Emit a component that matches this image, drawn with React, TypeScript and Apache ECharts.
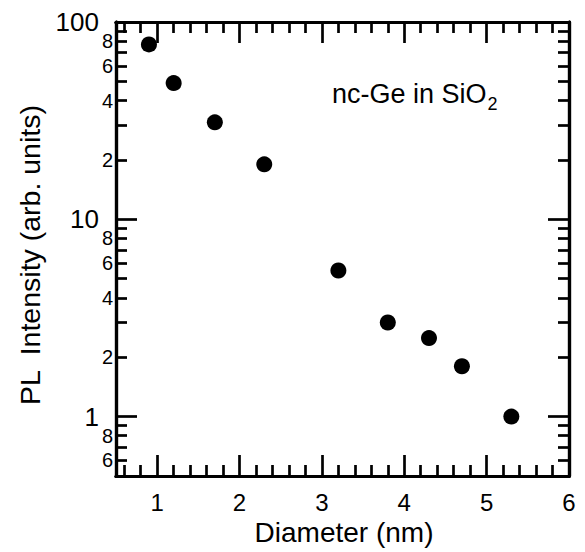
import React, { useEffect, useRef } from "react";
import * as echarts from "echarts";

const diameters = [0.9, 1.2, 1.7, 2.3, 3.2, 3.8, 4.3, 4.7, 5.3];
const intensities = [77, 49, 31, 19, 5.5, 3.0, 2.5, 1.8, 1.0];

const xMajorTicks = [1, 2, 3, 4, 5, 6];
const xMinorTicks = [0.6, 0.8, 1.2, 1.4, 1.6, 1.8, 2.2, 2.4, 2.6, 2.8, 3.2, 3.4, 3.6, 3.8, 4.2, 4.4, 4.6, 4.8, 5.2, 5.4, 5.6, 5.8];
const yMajorTicks = [1, 10, 100];
const yMinorTicks = [0.5, 0.6, 0.7, 0.8, 0.9, 2, 3, 4, 5, 6, 7, 8, 9, 20, 30, 40, 50, 60, 70, 80, 90];
const yMinorLabels = [0.6, 0.8, 2, 4, 6, 8, 20, 40, 60, 80];

const xTitle = "Diameter (nm)";
const yTitle = "PL  Intensity (arb. units)";
const FONT = "'Liberation Sans', Arial, Helvetica, sans-serif";

export default function App() {
  const ref = useRef<HTMLDivElement>(null);
  useEffect(() => {
    if (!ref.current) return;
    const chart = echarts.init(ref.current, undefined, { renderer: "svg" });
    const line = { show: true, onZero: false, lineStyle: { color: "#000", width: 3.2 } };
    const xAx = (pos: string, ticks: number[], len: number, labels: boolean) => ({
      type: "value",
      min: 0.5,
      max: 6,
      position: pos,
      axisLine: line,
      splitLine: { show: false },
      axisTick: { show: true, inside: true, length: len, customValues: ticks, lineStyle: { color: "#000", width: 2.7 } },
      axisLabel: labels
        ? { show: true, customValues: xMajorTicks, fontSize: 24, margin: 14, color: "#000", fontFamily: FONT }
        : { show: false },
    });
    const mant = (v: number) => {
      const p = Math.floor(Math.log10(v) + 1e-9);
      return String(Math.round(v / Math.pow(10, p)));
    };
    const yAx = (pos: string, ticks: number[], len: number, labels: any) => ({
      type: "log",
      logBase: 10,
      min: 0.5,
      max: 100,
      position: pos,
      axisLine: line,
      splitLine: { show: false },
      minorTick: { show: false },
      axisTick: { show: true, inside: true, length: len, customValues: ticks, lineStyle: { color: "#000", width: 2.7 } },
      axisLabel: labels || { show: false },
    });
    chart.setOption({
      animation: false,
      grid: { left: 116, right: 16, top: 22, bottom: 76 },
      xAxis: [
        xAx("bottom", xMajorTicks, 21, true),
        xAx("bottom", xMinorTicks, 11, false),
        xAx("top", xMajorTicks, 21, false),
        xAx("top", xMinorTicks, 11, false),
      ],
      yAxis: [
        yAx("left", yMajorTicks, 21, {
          show: true,
          customValues: yMajorTicks,
          fontSize: 26,
          margin: 17,
          color: "#000",
          fontFamily: FONT,
          formatter: (v: number) => String(Math.round(v)),
        }),
        yAx("left", yMinorTicks, 11, {
          show: true,
          customValues: yMinorLabels,
          fontSize: 20,
          margin: 3,
          color: "#000",
          fontFamily: FONT,
          formatter: (v: number) => mant(v),
        }),
        yAx("right", yMajorTicks, 21, null),
        yAx("right", yMinorTicks, 11, null),
      ],
      series: [
        {
          type: "scatter",
          xAxisIndex: 0,
          yAxisIndex: 0,
          symbol: "circle",
          symbolSize: 16,
          itemStyle: { color: "#000", opacity: 1 },
          data: diameters.map((d, i) => [d, intensities[i]]),
        },
      ],
      graphic: [
        {
          type: "text",
          x: 30,
          y: 255,
          rotation: Math.PI / 2,
          style: { text: yTitle, fontSize: 28.5, fontFamily: FONT, fill: "#000", align: "center", verticalAlign: "middle" },
        },
        {
          type: "text",
          x: 344,
          y: 532,
          style: { text: xTitle, fontSize: 28, fontFamily: FONT, fill: "#000", align: "center", verticalAlign: "middle" },
        },
        {
          type: "text",
          x: 332,
          y: 83,
          style: {
            text: "{a|nc-Ge in SiO}{b|2}",
            fontFamily: FONT,
            fill: "#000",
            align: "left",
            verticalAlign: "top",
            rich: {
              a: { fontSize: 27, lineHeight: 30, padding: [0, 1, 6, 0], fontFamily: FONT, fill: "#000", verticalAlign: "bottom" },
              b: { fontSize: 18, lineHeight: 14, fontFamily: FONT, fill: "#000", verticalAlign: "bottom" },
            },
          },
        },
      ],
    });
    return () => chart.dispose();
  }, []);
  return <div ref={ref} style={{ position: "absolute", left: 0, top: 0, width: 585, height: 552 }} />;
}
